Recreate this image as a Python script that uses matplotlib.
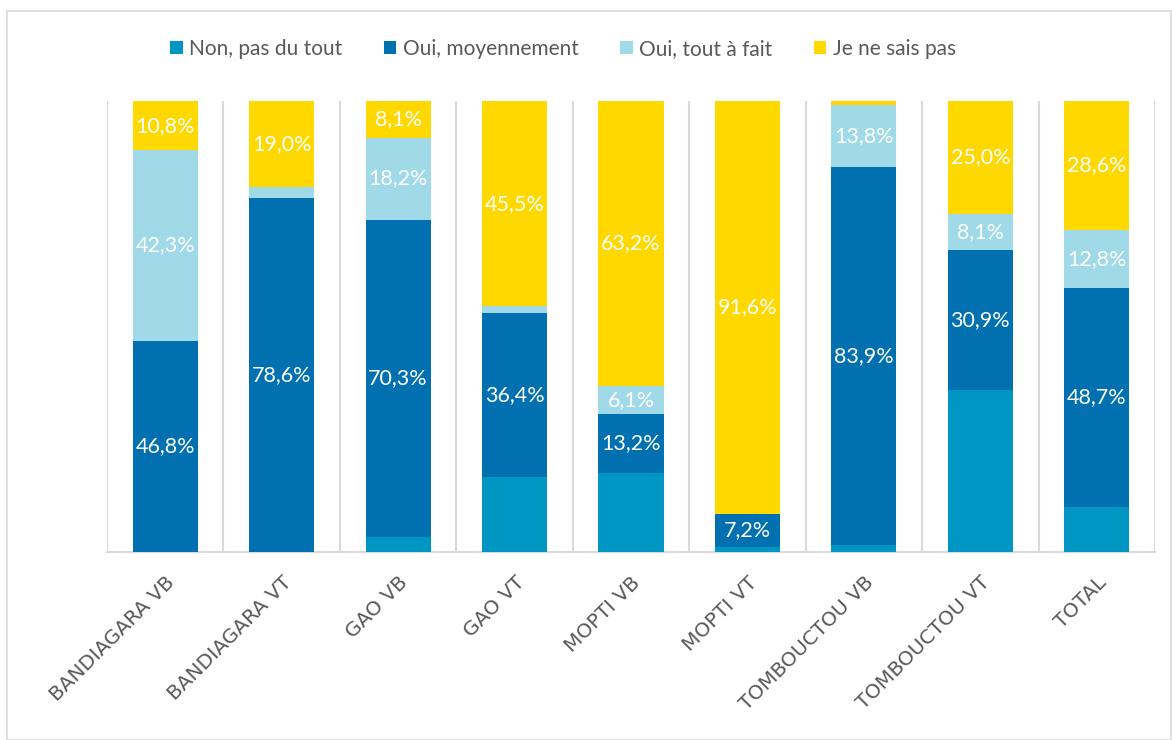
import numpy as np
import matplotlib.pyplot as plt
from matplotlib.patches import Rectangle

plt.rcParams['font.family'] = ['Lato', 'DejaVu Sans']

categories = ['BANDIAGARA VB', 'BANDIAGARA VT', 'GAO VB', 'GAO VT', 'MOPTI VB',
              'MOPTI VT', 'TOMBOUCTOU VB', 'TOMBOUCTOU VT', 'TOTAL']
series = ['Non, pas du tout', 'Oui, moyennement', 'Oui, tout à fait', 'Je ne sais pas']

non = [0.0, 0.0, 3.4, 16.6, 17.5, 1.2, 1.5, 36.0, 9.9]
oui_moy = [46.8, 78.6, 70.3, 36.4, 13.2, 7.2, 83.9, 30.9, 48.7]
oui_tout = [42.3, 2.4, 18.2, 1.5, 6.1, 0.0, 13.8, 8.1, 12.8]
jnsp = [10.8, 19.0, 8.1, 45.5, 63.2, 91.6, 0.8, 25.0, 28.6]

colors = ['#0096C4', '#0070B0', '#A0D9E8', '#FFD800']
grey = '#D9D9D9'
txt = '#595959'

fig = plt.figure(figsize=(11.72, 7.4), dpi=100)
ax = fig.add_axes([107/1172, 1 - 552/740, (1155 - 107)/1172, 451/740])

x = np.arange(len(categories))
bottom = np.zeros(len(categories))
data = [non, oui_moy, oui_tout, jnsp]
for k, (vals, c, lab) in enumerate(zip(data, colors, series)):
    vals = np.array(vals)
    ax.bar(x, vals, 0.56, bottom=bottom, color=c, label=lab, zorder=3)
    if k > 0:
        for i, v in enumerate(vals):
            if v >= 5:
                ax.text(x[i], bottom[i] + v/2, f'{v:.1f}%'.replace('.', ','),
                        ha='center', va='center', color='white', fontsize=15.5, zorder=4)
    bottom += vals

ax.set_xlim(-0.5, len(categories) - 0.5)
ax.set_ylim(0, 100)
ax.set_yticks([])
ax.set_xticks(x)
ax.set_xticklabels(categories, rotation=45, ha='right', va='top', rotation_mode='anchor',
                   fontsize=14.5, color=txt, fontfamily='DejaVu Sans')
ax.tick_params(axis='x', length=0, pad=15)
ax.set_xticks(np.arange(-0.5, len(categories)), minor=True)
ax.tick_params(axis='x', which='minor', length=0)
ax.grid(axis='x', which='minor', color=grey, linewidth=1.5, zorder=0)
for s in ['top', 'right', 'left']:
    ax.spines[s].set_visible(False)
ax.spines['bottom'].set_color(grey)
ax.spines['bottom'].set_linewidth(1.5)

fig.legend(loc='center', bbox_to_anchor=(563/1172, 1 - 49/740), ncol=4, frameon=False,
           fontsize=15, labelcolor=txt, handlelength=0.6, handleheight=0.6,
           handletextpad=0.3, columnspacing=2.0)

fig.patches.append(Rectangle((7/1172, 0), 1 - 8/1172, 1 - 11/740, transform=fig.transFigure,
                             fill=False, edgecolor=grey, linewidth=1.2))

fig.savefig('out.png', dpi=100)
